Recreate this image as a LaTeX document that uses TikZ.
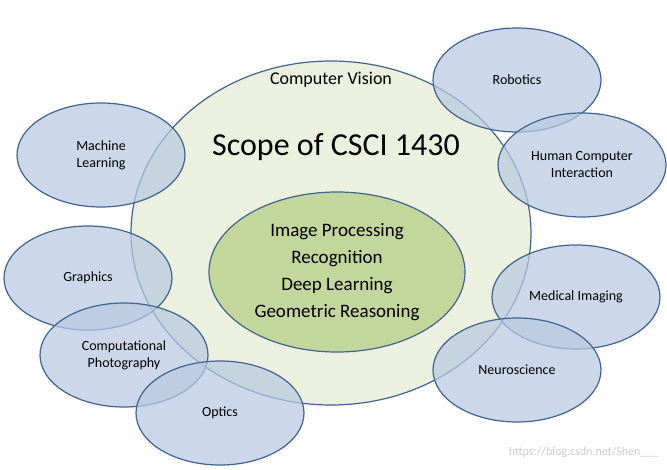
\documentclass[tikz,border=0pt]{standalone}
\usepackage{fontspec}
\setmainfont{Carlito}
\usetikzlibrary{shapes.geometric}
\definecolor{bord}{HTML}{41638F}
\definecolor{cv}{HTML}{EBF1DE}
\definecolor{inner}{HTML}{C3D69B}
\definecolor{blu}{HTML}{B9C9E2}
\begin{document}
\begin{tikzpicture}[x=1pt,y=-1pt,
  sat/.style={ellipse,draw=bord,line width=1.2pt,fill=blu,fill opacity=0.72,text opacity=1,
    minimum width=168pt,minimum height=104pt,font=\fontsize{14}{17}\selectfont,align=center,inner sep=0pt}]
\useasboundingbox (0,0) rectangle (667,469);
\node[ellipse,draw=bord,line width=1.2pt,fill=cv,minimum width=400pt,minimum height=344pt] (cv) at (331,233) {};
\node[ellipse,draw=bord,line width=1.2pt,fill=inner,minimum width=256pt,minimum height=160pt,
  font=\fontsize{19}{27}\selectfont,align=center,inner sep=0pt] (ip) at (337,272)
  {Image Processing\\Recognition\\Deep Learning\\Geometric Reasoning};
\node[font=\fontsize{18}{20}\selectfont] (cvt) at (331,80) {Computer Vision};
\node[font=\fontsize{32}{36}\selectfont] (sc) at (336,147) {Scope of CSCI 1430};
\node[sat] (ml) at (101,155) {Machine\\Learning};
\node[sat] (gr) at (88,278) {Graphics};
\node[sat] (cp) at (124,355) {Computational\\Photography};
\node[sat] (op) at (220,413) {Optics};
\node[sat] (ro) at (517,80) {Robotics};
\node[sat] (hci) at (582,165) {Human Computer\\Interaction};
\node[sat] (mi) at (576,297) {Medical Imaging};
\node[sat] (ne) at (517,370) {Neuroscience};
\node[text=gray!40,font=\fontsize{12}{14}\selectfont,anchor=east] (wm) at (662,452) {https://blog.csdn.net/Shen\_\_\_};
\end{tikzpicture}
\end{document}
